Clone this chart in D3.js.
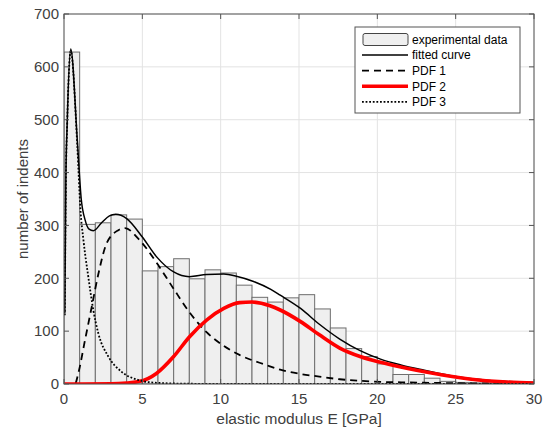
<!DOCTYPE html>
<html>
<head>
<meta charset="utf-8">
<script src="https://cdn.jsdelivr.net/npm/d3@7"></script>
<style>
  body { margin: 0; background: #fff; }
  svg text { font-family: "Liberation Sans", Arial, sans-serif; }
</style>
</head>
<body>
<div id="chart"></div>
<script>
// histogram bins (1 GPa wide)
const binStart = [0, 1, 2, 3, 4, 5, 6, 7, 8, 9, 10, 11, 12, 13, 14, 15, 16, 17, 18, 19, 20, 21, 22, 23, 24, 25, 26, 27, 28, 29];
const counts = [628, 302, 305, 320, 312, 214, 222, 237, 199, 216, 210, 187, 164, 155, 163, 169, 142, 106, 67, 52, 38, 18, 18, 11, 5, 3, 2, 2, 1, 1];

// curves, [E, count]
const fittedCurve = [[0.05, 134], [0.12, 390], [0.2, 490], [0.43, 634], [0.85, 461], [1.1, 350], [1.35, 310], [1.6, 293], [1.87, 290],
  [2.4, 305], [2.9, 318], [3.3, 321], [4.0, 313], [5.0, 278], [5.9, 241], [7.0, 212], [8.0, 203], [9.1, 207], [10.2, 208],
  [11.0, 204], [12.1, 194], [13.2, 179], [13.8, 168], [15.1, 143], [16.3, 113], [17.6, 85], [18.9, 63], [20.2, 47],
  [21.5, 36], [23, 26], [25, 14], [27, 7], [30, 3]];
const pdf1 = [[0, 0], [0.7, 0], [0.91, 20], [1.34, 83], [1.77, 146], [2.2, 209], [2.72, 266], [3.47, 291], [3.9, 295], [4.74, 275],
  [5.9, 230], [7.0, 180], [8.0, 136], [9.1, 98], [10.2, 72], [11.2, 55], [12.9, 36], [13.8, 27], [15.1, 19], [16.3, 14],
  [17.6, 9], [18.9, 6], [20.2, 4], [22, 3], [25, 1.5], [30, 0.5]];
const pdf2 = [[0, 0], [3, 0.5], [4, 2], [4.85, 5], [5.9, 20], [7.0, 52], [8.0, 89], [9.1, 121], [10.2, 143], [11.2, 154], [12.0, 155],
  [13.15, 148], [13.8, 140], [15.1, 118], [16.3, 93], [17.6, 68], [18.9, 52], [20.2, 41], [21.5, 32], [22.5, 26], [24, 18],
  [26, 9], [28, 4], [30, 2]];
const pdf3 = [[0.05, 130], [0.12, 385], [0.2, 488], [0.43, 630], [0.85, 450], [1.05, 330], [1.25, 270], [1.55, 203], [1.87, 140],
  [2.19, 96], [2.83, 52], [3.68, 23], [4.74, 7.6], [5.8, 2.5], [8, 0.5], [12, 0], [30, 0]];

const xTicks = [0, 5, 10, 15, 20, 25, 30];
const yTicks = [0, 100, 200, 300, 400, 500, 600, 700];
const legendLabels = ["experimental data", "fitted curve", "PDF 1", "PDF 2", "PDF 3"];

const width = 545, height = 430;
const margin = {top: 14, right: 11, bottom: 46, left: 64};
const plotW = width - margin.left - margin.right;
const plotH = height - margin.top - margin.bottom;

const svg = d3.select("#chart").append("svg")
  .attr("width", width)
  .attr("height", height);

const x = d3.scaleLinear().domain([0, 30]).range([margin.left, margin.left + plotW]);
const y = d3.scaleLinear().domain([0, 700]).range([margin.top + plotH, margin.top]);

const axisColor = "#555";
const textColor = "#404040";

// grid
svg.append("g").selectAll("line.gx")
  .data(xTicks)
  .enter().append("line")
  .attr("x1", d => x(d)).attr("x2", d => x(d))
  .attr("y1", y(0)).attr("y2", y(700))
  .attr("stroke", "#e3e3e3").attr("stroke-width", 1);
svg.append("g").selectAll("line.gy")
  .data(yTicks)
  .enter().append("line")
  .attr("x1", x(0)).attr("x2", x(30))
  .attr("y1", d => y(d)).attr("y2", d => y(d))
  .attr("stroke", "#e3e3e3").attr("stroke-width", 1);

// clip for the plot area
svg.append("clipPath").attr("id", "plotClip")
  .append("rect")
  .attr("x", x(0)).attr("y", y(700))
  .attr("width", plotW).attr("height", plotH);

const plot = svg.append("g").attr("clip-path", "url(#plotClip)");

// histogram
plot.selectAll("rect.bar")
  .data(binStart)
  .enter().append("rect")
  .attr("class", "bar")
  .attr("x", d => x(d))
  .attr("y", (d, i) => y(counts[i]))
  .attr("width", d => x(d + 1) - x(d))
  .attr("height", (d, i) => y(0) - y(counts[i]))
  .attr("fill", "#efefef")
  .attr("stroke", "#6e6e6e")
  .attr("stroke-width", 1);

const line = d3.line()
  .x(d => x(d[0]))
  .y(d => y(d[1]))
  .curve(d3.curveMonotoneX);

const styles = [
  {data: fittedCurve, color: "#000", w: 1.5, dash: null},
  {data: pdf1, color: "#000", w: 1.8, dash: "7,5"},
  {data: pdf2, color: "#ff0000", w: 3.6, dash: null},
  {data: pdf3, color: "#000", w: 1.8, dash: "1.8,1.8"}
];

styles.forEach(s => {
  plot.append("path")
    .datum(s.data)
    .attr("d", line)
    .attr("fill", "none")
    .attr("stroke", s.color)
    .attr("stroke-width", s.w)
    .attr("stroke-dasharray", s.dash);
});

// axes box
svg.append("rect")
  .attr("x", x(0)).attr("y", y(700))
  .attr("width", plotW).attr("height", plotH)
  .attr("fill", "none")
  .attr("stroke", axisColor)
  .attr("stroke-width", 1);

// inward ticks on all sides
const tickLen = 5;
const ticks = svg.append("g").attr("stroke", axisColor).attr("stroke-width", 1);
xTicks.forEach(t => {
  ticks.append("line").attr("x1", x(t)).attr("x2", x(t)).attr("y1", y(0)).attr("y2", y(0) - tickLen);
  ticks.append("line").attr("x1", x(t)).attr("x2", x(t)).attr("y1", y(700)).attr("y2", y(700) + tickLen);
});
yTicks.forEach(t => {
  ticks.append("line").attr("x1", x(0)).attr("x2", x(0) + tickLen).attr("y1", y(t)).attr("y2", y(t));
  ticks.append("line").attr("x1", x(30)).attr("x2", x(30) - tickLen).attr("y1", y(t)).attr("y2", y(t));
});

// tick labels
svg.append("g").selectAll("text")
  .data(xTicks)
  .enter().append("text")
  .attr("x", d => x(d))
  .attr("y", y(0) + 20)
  .attr("text-anchor", "middle")
  .attr("font-size", 15)
  .attr("fill", textColor)
  .text(d => d);

svg.append("g").selectAll("text")
  .data(yTicks)
  .enter().append("text")
  .attr("x", x(0) - 5)
  .attr("y", d => y(d))
  .attr("dy", "0.35em")
  .attr("text-anchor", "end")
  .attr("font-size", 15)
  .attr("fill", textColor)
  .text(d => d);

// axis titles
svg.append("text")
  .attr("x", x(15))
  .attr("y", 424)
  .attr("text-anchor", "middle")
  .attr("font-size", 15.5)
  .attr("fill", textColor)
  .text("elastic modulus E [GPa]");

svg.append("text")
  .attr("transform", `translate(28, ${(y(0) + y(700)) / 2}) rotate(-90)`)
  .attr("text-anchor", "middle")
  .attr("font-size", 15)
  .attr("fill", textColor)
  .text("number of indents");

// legend
const lg = svg.append("g").attr("transform", "translate(355, 27)");
lg.append("rect")
  .attr("width", 165).attr("height", 86)
  .attr("fill", "#fff")
  .attr("stroke", axisColor)
  .attr("stroke-width", 1);

const rowY = i => 12.5 + i * 15.6;
lg.append("rect")
  .attr("x", 8).attr("y", rowY(0) - 6)
  .attr("width", 45).attr("height", 12)
  .attr("rx", 2)
  .attr("fill", "#efefef")
  .attr("stroke", "#444")
  .attr("stroke-width", 1);

styles.forEach((s, i) => {
  lg.append("line")
    .attr("x1", 7).attr("x2", 53)
    .attr("y1", rowY(i + 1)).attr("y2", rowY(i + 1))
    .attr("stroke", s.color)
    .attr("stroke-width", s.w)
    .attr("stroke-dasharray", s.dash);
});

lg.selectAll("text")
  .data(legendLabels)
  .enter().append("text")
  .attr("x", 57)
  .attr("y", (d, i) => rowY(i))
  .attr("dy", "0.35em")
  .attr("font-size", 12)
  .attr("fill", "#000")
  .text(d => d);
</script>
</body>
</html>
